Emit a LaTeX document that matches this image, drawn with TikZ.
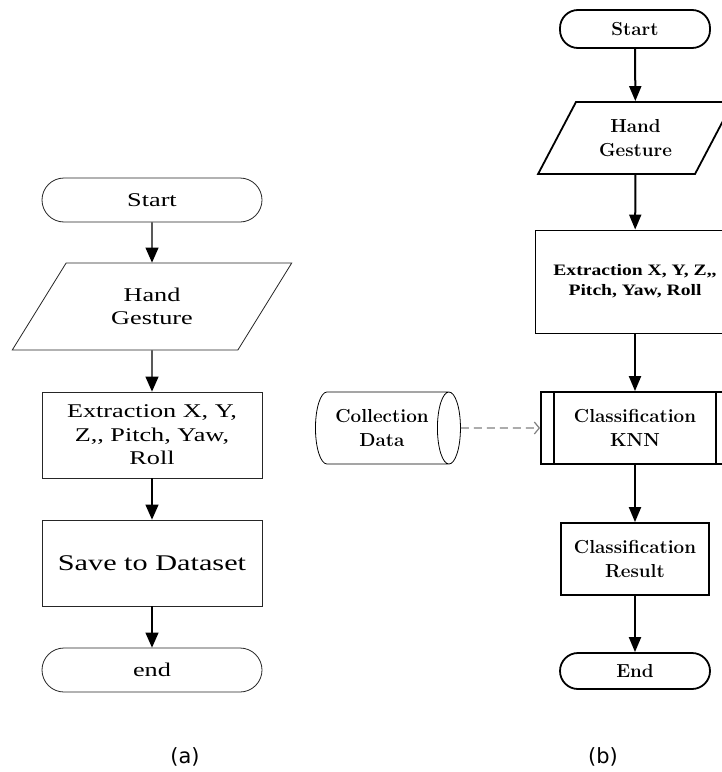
\documentclass[tikz,border=0pt]{standalone}
\usepackage{fontspec}
\usetikzlibrary{arrows.meta,shapes.geometric,positioning}
\newfontfamily\leftfont[FakeStretch=1.35]{Liberation Serif}
\newfontfamily\extfont[FakeStretch=1.23]{Liberation Serif}
\newfontfamily\capfont{DejaVu Sans}

\tikzset{
  boxA/.style={draw=black!85, line width=0.8bp, align=center, inner sep=0pt,
    font=\leftfont\fontsize{19.5}{23.5}\selectfont},
  termA/.style={boxA, rectangle, rounded corners=22bp, minimum width=220bp, minimum height=44bp},
  ioA/.style={boxA, trapezium, trapezium left angle=55.4, trapezium right angle=124.6,
    trapezium stretches=true, minimum width=280bp, minimum height=87bp},
  procA/.style={boxA, rectangle, minimum width=220bp, minimum height=86bp},
  boxB/.style={draw=black, line width=1.8bp, align=center, inner sep=0pt,
    font=\bfseries\fontsize{18.9}{24}\selectfont},
  termB/.style={boxB, rectangle, rounded corners=18bp, minimum width=150bp},
  ioB/.style={boxB, trapezium, trapezium left angle=58, trapezium right angle=122,
    trapezium stretches=true, minimum width=195bp, minimum height=72bp},
  procB/.style={boxB, rectangle, line width=0.9bp, minimum width=200bp, minimum height=103bp,
    font=\extfont\bfseries\fontsize{16}{20}\selectfont},
  predefB/.style={boxB, rectangle, minimum width=188bp, minimum height=72bp},
  storeB/.style={boxB, cylinder, line width=0.8bp, shape aspect=0.62,
    minimum width=72bp, minimum height=145bp},
  lineA/.style={line width=1.2bp, -{Triangle[length=15bp,width=13bp]}},
  lineB/.style={line width=2bp, -{Triangle[length=15bp,width=12bp]}},
  dashB/.style={gray, line width=1.2bp, dash pattern=on 8bp off 5bp,
    -{Straight Barb[length=5bp,width=12bp]}},
  capt/.style={font=\capfont\fontsize{21}{25}\selectfont}
}

\begin{document}
\begin{tikzpicture}[x=1bp,y=-1bp]
  \clip (0,0) rectangle (722,772);
  \fill[white] (0,0) rectangle (722,772);

  % (a) saving the gestures
  \node[termA] (startA) at (152,200) {Start};
  \node[ioA] (gestA) at (152,306.5) {Hand\\Gesture};
  \node[procA] (extA) at (152,435) {Extraction X, Y,\\Z,, Pitch, Yaw,\\Roll};
  \node[procA, font=\leftfont\fontsize{22.5}{26}\selectfont] (saveA) at (152,563) {Save to Dataset};
  \node[termA] (endA) at (152,670) {end};
  \foreach \a/\b in {startA/gestA, gestA/extA, extA/saveA, saveA/endA}
    \draw[lineA] (\a) -- (\b);

  % (b) classifying the gestures
  \node[termB, minimum height=38bp] (startB) at (635,29) {Start};
  \node[ioB] (gestB) at (635.5,138) {Hand\\Gesture};
  \node[procB] (extB) at (635,281.5) {Extraction X, Y, Z,,\\Pitch, Yaw, Roll};
  \node[predefB] (knnB) at (635,428) {Classification\\KNN};
  \node[boxB, minimum width=148bp, minimum height=72bp] (resB) at (635,559) {Classification\\Result};
  \node[termB, minimum height=36bp] (endB) at (635,671) {End};
  \node[storeB] (dataB) at (382,428) {Collection\\Data};
  \draw[boxB] ([xshift=14bp]knnB.north west) -- ([xshift=14bp]knnB.south west);
  \draw[boxB] ([xshift=-14bp]knnB.north east) -- ([xshift=-14bp]knnB.south east);
  \foreach \a/\b in {startB/gestB, gestB/extB, extB/knnB, knnB/resB, resB/endB}
    \draw[lineB] (\a) -- (\b);
  \draw[dashB] (dataB) -- (knnB);

  \node[capt] (capA) at (185,757) {(a)};
  \node[capt] (capB) at (603,757) {(b)};
\end{tikzpicture}
\end{document}
